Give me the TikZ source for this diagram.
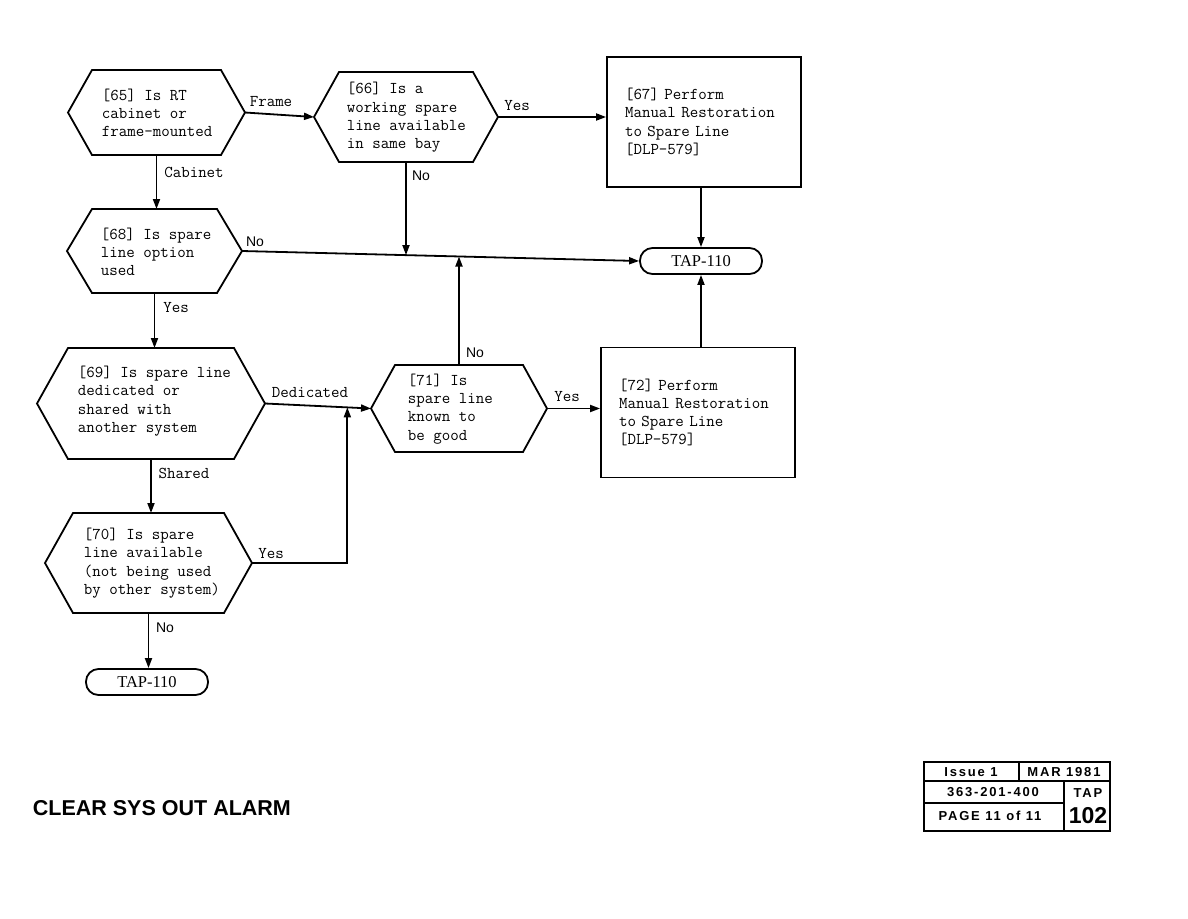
\documentclass[tikz,border=0pt]{standalone}
\usepackage{fontspec}
\usetikzlibrary{arrows.meta,calc}
\newfontfamily\sansb{Liberation Sans}
\newfontfamily\serifr{Liberation Serif}
\newfontfamily\tbfont{Liberation Sans}[LetterSpace=14]
\newcommand\hexshape[6]{%
  \draw[shapeline] (#2,{(#4+#5)/2}) coordinate (#1W) -- (#2+#6,#4) -- (#3-#6,#4)
    -- (#3,{(#4+#5)/2}) coordinate (#1E) -- (#3-#6,#5) -- (#2+#6,#5) -- cycle;
  \coordinate (#1N) at ({(#2+#3)/2},#4);
  \coordinate (#1S) at ({(#2+#3)/2},#5);
}
\begin{document}
\begin{tikzpicture}[x=1pt,y=-1pt,line width=1.8pt,
  shapeline/.style={line width=1.8pt,line join=miter},
  twfont/.style={font=\fontsize{16.5}{18.3}\selectfont\ttfamily\addfontfeatures{FakeBold=1.5}},
  txt/.style={anchor=west,align=left,inner sep=0pt,twfont},
  lbl/.style={inner sep=0pt,twfont},
  nolbl/.style={inner sep=0pt,font=\fontsize{14}{16}\selectfont\sansb},
  term/.style={draw,rounded corners=12.5pt,minimum width=122pt,minimum height=26pt,inner sep=0pt,font=\fontsize{16.5}{18}\selectfont\serifr},
  procbox/.style={draw,minimum width=194pt,minimum height=130pt,text width=158pt,inner xsep=18pt,inner ysep=0pt,align=left,twfont},
  arr/.style={-{Triangle[length=10pt,width=7pt]}},
  tb/.style={inner sep=0pt,font=\fontsize{13}{15}\selectfont\bfseries\tbfont},
]
\useasboundingbox (0,0) rectangle (1188,918);

% hexagons
\hexshape{h65}{68}{245}{70}{155}{24}
\hexshape{h66}{314}{498}{72}{162}{25}
\hexshape{h68}{67}{242}{209}{293}{25}
\hexshape{h69}{37}{265}{348}{459}{31}
\hexshape{h71}{371}{547}{365}{452}{24}
\hexshape{h70}{45}{252}{513}{613}{28}

\node[txt] (t65) at (101,113) {[65] Is RT\\cabinet or\\frame-mounted};
\node[txt] (t66) at (346,117.5) {[66] Is a\\working spare\\line available\\in same bay};
\node[txt] (t68) at (100,252) {[68] Is spare\\line option\\used};
\node[txt] (t69) at (77,401) {[69] Is spare line\\dedicated or\\shared with\\another system};
\node[txt] (t71) at (407,409) {[71] Is\\spare line\\known to\\be good};
\node[txt] (t70) at (83,563) {[70] Is spare\\line available\\(not being used\\by other system)};

% boxes
\node[procbox] (b67) at (704,122) {[67] Perform\\Manual Restoration\\to Spare Line\\{[DLP-579]}};
\node[procbox] (b72) at (698,412.5) {[72] Perform\\Manual Restoration\\to Spare Line\\{[DLP-579]}};

% terminals
\node[term] (tapA) at (701,261) {TAP-110};
\node[term] (tapB) at (147,682) {TAP-110};

% connectors
\draw[arr] (h65E) -- (h66W);
\draw[arr] (h66E) -- (h66E -| b67.west);
\draw[arr] (h65S) -- (h65S |- h68N);
\draw[arr] (h68E) -- (tapA.west);
\coordinate (j1) at ($(h68E)!(h66S)!(tapA.west)$);
\draw[arr] (h66S) -- (h66S |- j1);
\coordinate (j2) at ($(h68E)!(h71N)!(tapA.west)$);
\draw[arr] (h71N) -- (h71N |- j2);
\draw[arr] (tapA.north |- b67.south) -- (tapA.north);
\draw[arr] (tapA.south |- b72.north) -- (tapA.south);
\draw[arr] (h68S) -- (h68S |- h69N);
\draw[arr] (h69E) -- (h71W);
\draw[arr] (h69S) -- (h69S |- h70N);
\coordinate (j3) at ($(h69E)!(343,500)!(h71W)$);
\draw[arr] (h70E) -| (j3);
\draw[arr] (h71E) -- (h71E -| b72.west);
\draw[arr] (h70S) -- (h70S |- tapB.north);

% connector labels
\node[lbl] (lFrame) at (271,102) {Frame};
\node[lbl] (lYes66) at (517,106) {Yes};
\node[lbl] (lCab) at (194,172) {Cabinet};
\node[nolbl] (lNo66) at (421,176) {No};
\node[nolbl] (lNo68) at (255,242) {No};
\node[lbl] (lYes68) at (176,308) {Yes};
\node[lbl] (lDed) at (310,393) {Dedicated};
\node[lbl] (lShared) at (184,473) {Shared};
\node[lbl] (lYes70) at (271,554) {Yes};
\node[nolbl] (lNo71) at (475,353) {No};
\node[lbl] (lYes71) at (567,397) {Yes};
\node[nolbl] (lNo70) at (165,628) {No};

% title
\node[anchor=west,inner sep=0pt,font=\fontsize{21.5}{24}\selectfont\bfseries\sansb] (title) at (32,808) {CLEAR\ SYS\ OUT\ ALARM};

% title block
\draw[line width=1.6pt] (924,762) rectangle (1110,831);
\draw[line width=1.6pt] (924,781) -- (1110,781);
\draw[line width=1.6pt] (1019,762) -- (1019,781);
\draw[line width=1.6pt] (1064,781) -- (1064,831);
\draw[line width=1.6pt] (924,803) -- (1064,803);
\node[tb] (tbIssue) at (971,772) {Issue 1};
\node[tb] (tbDate) at (1064,772) {MAR 1981};
\node[tb] (tbNum) at (993,792) {363-201-400};
\node[tb] (tbTap) at (1088,793) {TAP};
\node[tb] (tbPage) at (990,816) {PAGE 11 of 11};
\node[inner sep=0pt,font=\fontsize{23}{25}\selectfont\bfseries\sansb] (tb102) at (1088,816) {102};
\end{tikzpicture}
\end{document}
